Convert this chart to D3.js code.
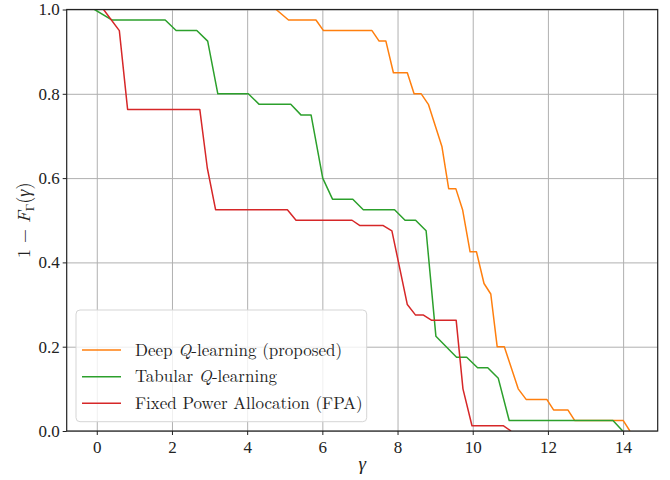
<!DOCTYPE html>
<html>
<head>
<meta charset="utf-8">
<script src="https://cdn.jsdelivr.net/npm/d3@7"></script>
<style>
  body { margin: 0; background: #fff; }
  svg text { font-family: "Latin Modern Roman", "Liberation Serif", serif; fill: #222; }
</style>
</head>
<body>
<svg id="chart"></svg>
<script>
"use strict";

// ── Data ───────────────────────────────────────────────────────────────────────
const deepX = [4.77, 5.10, 5.83, 6.03, 7.32, 7.51, 7.69, 7.89, 8.26, 8.44, 8.63, 8.82, 9.18, 9.36, 9.55,
               9.73, 9.93, 10.10, 10.30, 10.48, 10.65, 10.84, 11.21, 11.42, 11.97, 12.15, 12.53, 12.71, 14.00, 14.18];
const deepY = [1.0, 0.975, 0.975, 0.95, 0.95, 0.925, 0.925, 0.85, 0.85, 0.8, 0.8, 0.775, 0.675, 0.575, 0.575,
               0.525, 0.425, 0.425, 0.35, 0.325, 0.2, 0.2, 0.1, 0.075, 0.075, 0.05, 0.05, 0.025, 0.025, 0.0];

const tabX = [-0.06, 0.41, 1.82, 2.11, 2.66, 2.95, 3.22, 4.03, 4.32, 5.16, 5.43, 5.70, 6.01, 6.27, 6.81,
              7.09, 7.92, 8.20, 8.48, 8.76, 9.02, 9.57, 9.84, 10.13, 10.40, 10.68, 10.97, 13.73, 13.99];
const tabY = [1.0, 0.975, 0.975, 0.95, 0.95, 0.925, 0.8, 0.8, 0.775, 0.775, 0.75, 0.75, 0.6, 0.55, 0.55,
              0.525, 0.525, 0.5, 0.5, 0.475, 0.225, 0.175, 0.175, 0.15, 0.15, 0.125, 0.025, 0.025, 0.0];

const fpaX = [0.18, 0.60, 0.82, 2.74, 2.94, 3.16, 5.07, 5.30, 6.79, 7.00, 7.62, 7.85, 8.26, 8.48, 8.69,
              8.91, 9.56, 9.74, 9.98, 10.81, 11.02];
const fpaY = [1.0, 0.95, 0.763, 0.763, 0.624, 0.525, 0.525, 0.5, 0.5, 0.4875, 0.4875, 0.475, 0.3, 0.275, 0.275,
              0.2625, 0.2625, 0.1, 0.0125, 0.0125, 0.0];

const seriesNames  = ["Deep Q-learning (proposed)", "Tabular Q-learning", "Fixed Power Allocation (FPA)"];
const seriesColors = ["#ff7f0e", "#2ca02c", "#d62728"];
const xTicks = [0, 2, 4, 6, 8, 10, 12, 14];
const yTicks = [0.0, 0.2, 0.4, 0.6, 0.8, 1.0];

// ── Layout ───────────────────────────────────────────────────────────────────
const totalW = 670, totalH = 480;
const margin = { top: 9.5, right: 12.3, bottom: 49, left: 66.7 };
const W = totalW - margin.left - margin.right;
const H = totalH - margin.top - margin.bottom;

const svg = d3.select("#chart")
  .attr("width", totalW)
  .attr("height", totalH)
  .attr("viewBox", `0 0 ${totalW} ${totalH}`);

const g = svg.append("g").attr("transform", `translate(${margin.left},${margin.top})`);

const xScale = d3.scaleLinear().domain([-0.8, 14.92]).range([0, W]);
const yScale = d3.scaleLinear().domain([0, 1]).range([H, 0]);

// Grid
g.append("g").attr("class", "x-grid")
  .attr("transform", `translate(0,${H})`)
  .call(d3.axisBottom(xScale).tickValues(xTicks).tickSize(-H).tickFormat(""))
  .call(s => s.select(".domain").remove())
  .call(s => s.selectAll("line").attr("stroke", "#b0b0b0").attr("stroke-width", 1));

g.append("g").attr("class", "y-grid")
  .call(d3.axisLeft(yScale).tickValues(yTicks).tickSize(-W).tickFormat(""))
  .call(s => s.select(".domain").remove())
  .call(s => s.selectAll("line").attr("stroke", "#b0b0b0").attr("stroke-width", 1));

// ── Lines ────────────────────────────────────────────────────────────────────
g.append("clipPath").attr("id", "plotClip")
  .append("rect").attr("width", W).attr("height", H);

const series = [
  { xs: deepX, ys: deepY },
  { xs: tabX,  ys: tabY },
  { xs: fpaX,  ys: fpaY }
];

const line = d3.line()
  .x(d => xScale(d[0]))
  .y(d => yScale(d[1]));

series.forEach((s, i) => {
  g.append("path")
    .datum(d3.zip(s.xs, s.ys))
    .attr("clip-path", "url(#plotClip)")
    .attr("fill", "none")
    .attr("stroke", seriesColors[i])
    .attr("stroke-width", 1.5)
    .attr("stroke-linejoin", "round")
    .attr("d", line);
});

// ── Axes ─────────────────────────────────────────────────────────────────────
const xAxis = g.append("g")
  .attr("transform", `translate(0,${H})`)
  .call(d3.axisBottom(xScale).tickValues(xTicks).tickSize(4).tickPadding(6).tickFormat(d3.format("d")));

const yAxis = g.append("g")
  .call(d3.axisLeft(yScale).tickValues(yTicks).tickSize(4).tickPadding(3).tickFormat(d3.format(".1f")));

[xAxis, yAxis].forEach(ax => {
  ax.select(".domain").remove();
  ax.selectAll("line").attr("stroke", "#222").attr("stroke-width", 1);
  ax.selectAll("text").attr("font-size", 17).attr("fill", "#222")
    .style("font-family", "'Liberation Serif', serif");
});

// Spines
g.append("rect")
  .attr("width", W).attr("height", H)
  .attr("fill", "none").attr("stroke", "#222").attr("stroke-width", 1.2);

// Axis labels
svg.append("text")
  .attr("x", margin.left + W / 2).attr("y", 470)
  .attr("text-anchor", "middle").attr("font-size", 19)
  .attr("font-style", "italic")
  .text("γ");

const yLab = svg.append("text")
  .attr("transform", `translate(30,${margin.top + H / 2}) rotate(-90)`)
  .attr("text-anchor", "middle").attr("font-size", 18);
yLab.append("tspan").text("1 − ");
yLab.append("tspan").attr("font-style", "italic").text("F");
yLab.append("tspan").attr("font-size", 12).attr("dy", 4).text("Γ");
yLab.append("tspan").attr("dy", -4).text("(");
yLab.append("tspan").attr("font-style", "italic").text("γ");
yLab.append("tspan").text(")");

// ── Legend ───────────────────────────────────────────────────────────────────
const leg = svg.append("g").attr("transform", "translate(76,310)");
leg.append("rect")
  .attr("width", 290.7).attr("height", 111.7)
  .attr("rx", 4).attr("ry", 4)
  .attr("fill", "#fff").attr("fill-opacity", 0.8)
  .attr("stroke", "#d5d5d5").attr("stroke-width", 1);

const rowY = [40, 66.7, 93.3];
seriesNames.forEach((name, i) => {
  const row = leg.append("g").attr("transform", `translate(0,${rowY[i]})`);
  row.append("line")
    .attr("x1", 6).attr("x2", 45)
    .attr("stroke", seriesColors[i]).attr("stroke-width", 1.5);
  const t = row.append("text")
    .attr("x", 59).attr("dy", "0.33em").attr("font-size", 17);
  const parts = name.split("Q");
  if (parts.length > 1) {
    t.append("tspan").text(parts[0]);
    t.append("tspan").attr("font-style", "italic").text("Q");
    t.append("tspan").text(parts[1]);
  } else {
    t.text(name);
  }
});
</script>
</body>
</html>
